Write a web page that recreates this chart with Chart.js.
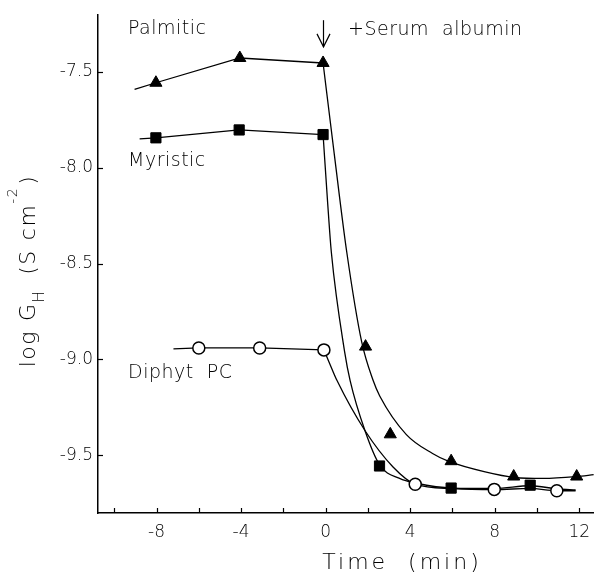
<!DOCTYPE html>
<html><head><meta charset="utf-8">
<script src="https://cdn.jsdelivr.net/npm/chart.js@4"></script>
<style>html,body{margin:0;padding:0;background:#fff;overflow:hidden}canvas{display:block}</style>
</head><body>
<canvas id="c" width="602" height="573"></canvas>
<script>
// Tick labels
const xTickLabels = [-8, -4, 0, 4, 8, 12];
const yTickLabels = [-7.5, -8.0, -8.5, -9.0, -9.5];

// Measured points (time in min, log G_H)
const palmiticT = [-8.03, -4.06, -0.12, 1.89, 3.06, 5.94, 8.9, 11.88];
const palmiticV = [-7.558, -7.429, -7.455, -8.933, -9.39, -9.53, -9.61, -9.61];
const myristicT = [-8.03, -4.09, -0.12, 2.55, 5.94, 9.68];
const myristicV = [-7.845, -7.804, -7.828, -9.555, -9.67, -9.655];
const diphytT = [-6.0, -3.12, -0.08, 4.24, 7.98, 10.94];
const diphytV = [-8.94, -8.94, -8.95, -9.65, -9.677, -9.684];

// Connecting lines before albumin addition
const palmiticPreT = [-9.04, -8.03, -4.06, -0.12];
const palmiticPreV = [-7.593, -7.558, -7.429, -7.455];
const myristicPreT = [-8.8, -8.03, -4.09, -0.12];
const myristicPreV = [-7.85, -7.845, -7.804, -7.828];
const diphytPreT = [-7.2, -6.0, -3.12, -0.08];
const diphytPreV = [-8.945, -8.94, -8.94, -8.95];

// Drawn decay curves after albumin addition
const palmiticFitT = [-0.12, 0.41, 1.0, 1.71, 2.25, 2.56, 3.81, 5.06, 5.8, 7.55, 8.95, 10.3, 11.88, 12.69];
const palmiticFitV = [-7.455, -7.93, -8.44, -8.91, -9.11, -9.19, -9.39, -9.49, -9.53, -9.586, -9.615, -9.62, -9.61, -9.60];
const myristicFitT = [-0.12, 0.1, 0.27, 0.9, 1.16, 1.86, 2.56, 3.5, 4.3, 6.0, 8.0, 9.68, 11.0, 11.83];
const myristicFitV = [-7.828, -8.19, -8.44, -8.96, -9.11, -9.37, -9.55, -9.62, -9.645, -9.67, -9.672, -9.658, -9.675, -9.68];
const diphytFitT = [-0.08, 0.15, 0.54, 1.86, 3.19, 4.24, 6.0, 8.0, 9.68, 10.94, 11.83];
const diphytFitV = [-8.95, -9.01, -9.11, -9.37, -9.56, -9.65, -9.673, -9.678, -9.672, -9.684, -9.684];

const pts = (t, v) => t.map((x, i) => ({x: x, y: v[i]}));
const FONT = '"DejaVu Sans", sans-serif';
const W = '200';

const markerBase = {showLine: false, borderColor: '#000', order: 0};
const lineBase = {showLine: true, borderColor: '#000', borderWidth: 1.3, pointRadius: 0, fill: false, order: 1};

const datasets = [
  Object.assign({}, markerBase, {label: 'Palmitic', data: pts(palmiticT, palmiticV), pointStyle: 'triangle', pointRadius: 7, backgroundColor: '#000', borderWidth: 1}),
  Object.assign({}, markerBase, {label: 'Myristic', data: pts(myristicT, myristicV), pointStyle: 'rect', pointRadius: 7.2, backgroundColor: '#000', borderWidth: 1}),
  Object.assign({}, markerBase, {label: 'Diphyt PC', data: pts(diphytT, diphytV), pointStyle: 'circle', pointRadius: 6, backgroundColor: '#fff', borderWidth: 1.5}),
  Object.assign({}, lineBase, {data: pts(palmiticPreT, palmiticPreV), tension: 0}),
  Object.assign({}, lineBase, {data: pts(myristicPreT, myristicPreV), tension: 0}),
  Object.assign({}, lineBase, {data: pts(diphytPreT, diphytPreV), tension: 0}),
  Object.assign({}, lineBase, {data: pts(palmiticFitT, palmiticFitV), cubicInterpolationMode: 'monotone'}),
  Object.assign({}, lineBase, {data: pts(myristicFitT, myristicFitV), cubicInterpolationMode: 'monotone'}),
  Object.assign({}, lineBase, {data: pts(diphytFitT, diphytFitV), cubicInterpolationMode: 'monotone'})
];

const decor = {
  id: 'decor',
  beforeDraw(chart) {
    const ctx = chart.ctx;
    ctx.save();
    ctx.fillStyle = '#fff';
    ctx.fillRect(0, 0, chart.width, chart.height);
    ctx.restore();
  },
  afterDraw(chart) {
    const ctx = chart.ctx;
    const xs = chart.scales.x, ys = chart.scales.y;
    const a = chart.chartArea;
    ctx.save();
    ctx.strokeStyle = '#000';
    ctx.fillStyle = '#000';
    ctx.lineWidth = 1.2;
    // inward tick marks
    xs.ticks.forEach(t => {
      const px = Math.round(xs.getPixelForValue(t.value)) + 0.5;
      ctx.beginPath(); ctx.moveTo(px, a.bottom); ctx.lineTo(px, a.bottom - 5); ctx.stroke();
    });
    ys.ticks.forEach(t => {
      const py = Math.round(ys.getPixelForValue(t.value)) + 0.5;
      ctx.beginPath(); ctx.moveTo(a.left, py); ctx.lineTo(a.left + 5, py); ctx.stroke();
    });
    // arrow marking albumin addition
    const ax = xs.getPixelForValue(-0.1);
    const ay0 = ys.getPixelForValue(-7.232), ay1 = ys.getPixelForValue(-7.371);
    ctx.lineWidth = 1.2;
    ctx.beginPath(); ctx.moveTo(ax, ay0); ctx.lineTo(ax, ay1); ctx.stroke();
    ctx.beginPath(); ctx.moveTo(ax - 6.5, ay1 - 13); ctx.lineTo(ax, ay1); ctx.lineTo(ax + 6.5, ay1 - 13); ctx.stroke();
    // labels
    ctx.textAlign = 'left';
    ctx.textBaseline = 'alphabetic';
    ctx.font = W + ' 19px ' + FONT;
    ctx.letterSpacing = '0.5px';
    ctx.fillText('Palmitic', 128, 34);
    ctx.fillText('Myristic', 128, 166);
    ctx.fillText('Diphyt  PC', 128, 378);
    ctx.fillText('+Serum  albumin', 348, 35);
    // x title
    ctx.font = W + ' 22px ' + FONT;
    ctx.letterSpacing = '3px';
    ctx.textAlign = 'center';
    ctx.fillText('Time  (min)', 402, 569);
    // y title (rotated), pieces laid out sequentially
    const pieces = [
      {t: 'log', s: 22, dy: 0, gap: 9},
      {t: 'G', s: 22, dy: 0, gap: 0},
      {t: 'H', s: 15, dy: 9, gap: 15},
      {t: '(S', s: 22, dy: 0, gap: 9},
      {t: 'cm', s: 22, dy: 0, gap: 0},
      {t: '-2', s: 14, dy: -18, gap: 2},
      {t: ')', s: 22, dy: 0, gap: 0}
    ];
    ctx.textAlign = 'left';
    ctx.letterSpacing = '1.5px';
    let total = 0;
    pieces.forEach(p => { ctx.font = W + ' ' + p.s + 'px ' + FONT; p.w = ctx.measureText(p.t).width; total += p.w + p.gap; });
    ctx.translate(35, 271);
    ctx.rotate(-Math.PI / 2);
    let cx = -total / 2;
    pieces.forEach(p => {
      ctx.font = W + ' ' + p.s + 'px ' + FONT;
      ctx.fillText(p.t, cx, p.dy);
      cx += p.w + p.gap;
    });
    ctx.restore();
  }
};

new Chart(document.getElementById('c'), {
  type: 'line',
  data: {datasets: datasets},
  options: {
    responsive: false,
    animation: false,
    events: [],
    layout: {padding: {top: 10, right: 2, left: 0, bottom: 0}},
    plugins: {legend: {display: false}, tooltip: {enabled: false}, title: {display: false}},
    scales: {
      x: {
        type: 'linear', min: -10.77, max: 12.69,
        afterFit: s => { s.height = 60; },
        grid: {display: false, drawTicks: false},
        border: {display: true, color: '#000', width: 1.5},
        ticks: {
          stepSize: 2, includeBounds: false, autoSkip: false, maxRotation: 0, padding: 9,
          color: '#000', font: {family: FONT, size: 17, weight: W},
          callback: v => xTickLabels.includes(v) ? String(v) : ''
        }
      },
      y: {
        type: 'linear', min: -9.8, max: -7.206,
        afterFit: s => { s.width = 98; },
        grid: {display: false, drawTicks: false},
        border: {display: true, color: '#000', width: 1.5},
        ticks: {
          stepSize: 0.5, includeBounds: false, padding: 5,
          color: '#000', font: {family: FONT, size: 17, weight: W},
          callback: v => yTickLabels.some(l => Math.abs(l - v) < 1e-6) ? v.toFixed(1) : ''
        }
      }
    }
  },
  plugins: [decor]
});
</script>
</body></html>
